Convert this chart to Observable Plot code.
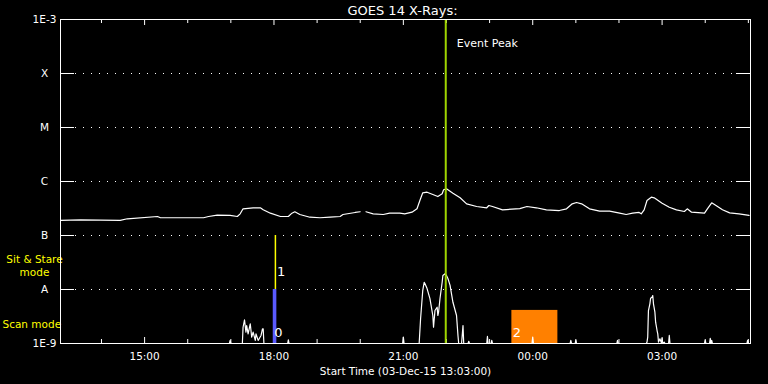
<!DOCTYPE html>
<html><head><meta charset="utf-8">
<script src="https://cdn.jsdelivr.net/npm/d3@7"></script>
<script src="https://cdn.jsdelivr.net/npm/@observablehq/plot@0.6"></script>
<style>html,body{margin:0;padding:0;background:#000;}#chart{width:768px;height:384px;}</style>
</head><body><div id="chart"></div>
<script>
// ---- data ----
const title = "GOES 14 X-Rays:";
const xLabel = "Start Time (03-Dec-15 13:03:00)";
const startTime = "13:03";
const endTime = "05:03";
const yTickValues = [1e-9, 1e-8, 1e-7, 1e-6, 1e-5, 1e-4, 1e-3];
const yTickLabels = ["1E-9", "A", "B", "C", "M", "X", "1E-3"];
const gridLevels = [1e-8, 1e-7, 1e-6, 1e-5, 1e-4];

// GOES long channel (1-8 A)
const hiTime = ["13:03","13:31","14:26","14:36","15:18","15:22","16:22","16:29","16:41","16:59","17:09","17:13","17:17","17:31","17:41","17:45","17:55","18:09","18:20","18:25","18:29","18:36","18:50","19:04","19:18","19:32","19:36","19:53","20:00","20:04","20:08","20:18","20:32","20:41","20:55","21:02","21:12","21:19","21:23","21:27","21:33","21:41","21:48","21:54","21:56","22:00","22:09","22:19","22:28","22:42","22:56","22:59","23:04","23:18","23:42","23:52","00:05","00:19","00:37","00:47","00:55","01:01","01:08","01:19","01:33","01:47","02:01","02:10","02:19","02:28","02:31","02:35","02:39","02:45","02:49","03:00","03:10","03:20","03:31","03:35","03:41","03:59","04:03","04:09","04:15","04:24","04:34","04:47","05:01"];
const hiFlux = [1.90e-7,1.95e-7,1.90e-7,2.04e-7,2.25e-7,2.13e-7,2.13e-7,2.25e-7,2.38e-7,2.35e-7,2.25e-7,2.52e-7,3.12e-7,3.26e-7,3.26e-7,3.0e-7,2.59e-7,2.25e-7,2.25e-7,2.59e-7,2.75e-7,2.45e-7,2.18e-7,2.13e-7,2.18e-7,2.25e-7,2.45e-7,2.67e-7,2.75e-7,null,2.75e-7,2.52e-7,2.45e-7,2.59e-7,2.59e-7,2.52e-7,2.70e-7,3.12e-7,4.45e-7,6.18e-7,6.34e-7,5.74e-7,5.27e-7,5.92e-7,7.02e-7,7.33e-7,6.07e-7,4.99e-7,3.86e-7,3.44e-7,3.26e-7,3.59e-7,3.44e-7,2.99e-7,3.15e-7,3.44e-7,3.26e-7,2.99e-7,2.90e-7,3.12e-7,3.86e-7,4.08e-7,3.86e-7,3.12e-7,2.82e-7,2.82e-7,2.59e-7,2.45e-7,2.59e-7,2.67e-7,2.52e-7,2.99e-7,4.45e-7,5.12e-7,4.99e-7,3.96e-7,3.34e-7,2.99e-7,2.78e-7,3.12e-7,2.70e-7,2.59e-7,3.12e-7,4.03e-7,3.59e-7,2.99e-7,2.63e-7,2.52e-7,2.35e-7];

// GOES short channel (0.5-4 A), 1E-9 = at or below the axis floor
const loTime = ["13:03","16:58","16:59","17:00","17:16","17:17","17:19","17:21","17:22","17:24","17:27","17:29","17:31","17:34","17:35","17:38","17:42","17:44","17:45","17:46","18:19","18:20","18:21","20:59","21:00","21:01","21:22","21:24","21:27","21:29","21:30","21:33","21:37","21:41","21:42","21:44","21:47","21:48","21:49","21:51","21:54","21:55","21:58","22:00","22:02","22:05","22:09","22:14","22:16","22:17","22:21","22:23","22:24","22:30","22:31","22:32","22:56","22:57","22:58","23:02","23:03","23:04","23:59","00:00","00:01","00:52","00:53","00:54","00:59","01:00","01:01","01:57","01:58","01:59","02:38","02:39","02:40","02:41","02:43","02:44","02:46","02:47","02:48","02:50","02:51","02:53","02:54","02:55","02:57","02:59","03:00","03:01","03:03","03:04","03:09","03:10","03:11","03:59","04:00","04:01","04:06","04:07","04:08","04:09","04:10","04:58","04:59","05:00","05:03"];
const loFlux = [1e-9,1e-9,1.14e-9,1e-9,1e-9,2.0e-9,2.75e-9,1.62e-9,2.15e-9,1.51e-9,2.32e-9,1.31e-9,1.62e-9,1.14e-9,1.51e-9,1.14e-9,1.41e-9,1.87e-9,1.87e-9,1e-9,1e-9,1.17e-9,1e-9,1e-9,1.31e-9,1e-9,1e-9,2.9e-9,9.6e-9,1.36e-8,1.29e-8,1.04e-8,6.8e-9,3.3e-9,2.0e-9,4.08e-9,4.7e-9,3.3e-9,3.8e-9,6.8e-9,1.36e-8,1.82e-8,1.95e-8,1.82e-8,1.6e-8,1.19e-8,5.8e-9,3.3e-9,1.41e-9,1e-9,1e-9,2.15e-9,1e-9,1e-9,1.1e-9,1e-9,1e-9,1.35e-9,1e-9,1e-9,1.14e-9,1e-9,1e-9,1.31e-9,1e-9,1e-9,1.14e-9,1e-9,1e-9,1.14e-9,1e-9,1e-9,1.14e-9,1e-9,1e-9,1.06e-9,1.31e-9,4.08e-9,5.43e-9,6.9e-9,7.2e-9,7.74e-9,5.43e-9,3.8e-9,2.48e-9,1.74e-9,1.51e-9,1.06e-9,1.22e-9,1.03e-9,1.25e-9,1e-9,1.06e-9,1e-9,1e-9,1.41e-9,1e-9,1e-9,1.14e-9,1e-9,1e-9,1.25e-9,1e-9,1.14e-9,1e-9,1e-9,1.14e-9,1e-9,1e-9];

const eventPeakTime = "21:59";
const eventLabel = "Event Peak";
const scanBarTime = ["17:59", "18:04"];     // blue bar, scan mode
const scanBarFlux = [1e-9, 1e-8];
const sitStareTime = "18:02";               // yellow line, sit & stare
const sitStareFlux = [1e-8, 1e-7];
const orangeTime = ["23:31", "00:35"];
const orangeFlux = [1e-9, 4.1e-9];
const modeLabels = ["0", "1", "2"];
const modeLabelTime = ["18:06", "18:10", "23:38"];
const modeLabelFlux = [1.6e-9, 2.1e-8, 1.55e-9];
const sitStareLabel = "Sit & Stare\nmode";
const sitStareLabelFlux = 2.78e-8;
const scanLabel = "Scan mode";
const scanLabelFlux = 2.25e-9;

// ---- build ----
const parseT = s => { const [h, m] = s.split(":").map(Number); return new Date(Date.UTC(2015, 11, h < 13 ? 4 : 3, h, m)); };
const hi = hiTime.map((s, i) => ({t: parseT(s), f: hiFlux[i]}));
const lo = loTime.map((s, i) => ({t: parseT(s), f: loFlux[i]}));
const t0 = parseT(startTime), t1 = parseT(endTime);
const hourTicks = d3.utcHour.range(d3.utcHour.ceil(t0), t1);
const major = hourTicks.filter(d => d.getUTCHours() % 3 === 0);
const minor = hourTicks.filter(d => d.getUTCHours() % 3 !== 0);
const eventT = parseT(eventPeakTime);

const W = 768, H = 384, mL = 60, mR = 18, mT = 19, mB = 41;
const fw = W - mL - mR, fh = H - mT - mB;
const white = "#fff", yellow = "#ffff00";

const chart = Plot.plot({
  width: W, height: H, marginLeft: mL, marginRight: mR, marginTop: mT, marginBottom: mB,
  style: {background: "#000", color: white, fontFamily: "DejaVu Sans, sans-serif", fontSize: "10.5px"},
  x: {type: "utc", domain: [t0, t1]},
  y: {type: "log", domain: [1e-9, 1e-3]},
  marks: [
    Plot.tickY(gridLevels, {y: d => d, stroke: white, strokeDasharray: "1,7", insetLeft: 15, insetRight: 15}),
    Plot.tickY(yTickValues, {y: d => d, stroke: white, insetRight: fw - 14}),
    Plot.tickY(yTickValues, {y: d => d, stroke: white, insetLeft: fw - 14}),
    Plot.tickX(minor, {x: d => d, stroke: white, insetTop: fh - 4}),
    Plot.tickX(major, {x: d => d, stroke: white, insetTop: fh - 6}),
    Plot.tickX(minor, {x: d => d, stroke: white, insetBottom: fh - 4}),
    Plot.tickX(major, {x: d => d, stroke: white, insetBottom: fh - 6}),
    Plot.rect([0], {x1: () => parseT(orangeTime[0]), x2: () => parseT(orangeTime[1]), y1: () => orangeFlux[0], y2: () => orangeFlux[1], fill: "#ff8000"}),
    Plot.line(lo, {x: "t", y: "f", stroke: white, strokeWidth: 1.2}),
    Plot.line(hi, {x: "t", y: "f", stroke: white, strokeWidth: 1.2}),
    Plot.rect([0], {x1: () => parseT(scanBarTime[0]), x2: () => parseT(scanBarTime[1]), y1: () => scanBarFlux[0], y2: () => scanBarFlux[1], fill: "#5a5aff"}),
    Plot.ruleX([parseT(sitStareTime)], {x: d => d, y1: sitStareFlux[0], y2: sitStareFlux[1], stroke: yellow, strokeWidth: 1.5}),
    Plot.ruleX([eventT], {x: d => d, stroke: "#9fd400", strokeWidth: 2}),
    Plot.text([eventLabel], {x: () => eventT, y: () => 3.67e-4, text: d => d, textAnchor: "start", dx: 11, fill: white, fontSize: 11}),
    Plot.text(modeLabels, {x: (d, i) => parseT(modeLabelTime[i]), y: (d, i) => modeLabelFlux[i], text: d => d, fill: white, fontSize: 13}),
    Plot.text([sitStareLabel], {x: () => t0, y: () => sitStareLabelFlux, text: d => d, fill: yellow, fontSize: 10.5, lineHeight: 1.2, textAnchor: "middle", dx: -26}),
    Plot.text([scanLabel], {x: () => t0, y: () => scanLabelFlux, text: d => d, fill: yellow, fontSize: 10.5, textAnchor: "start", dx: -58}),
    Plot.frame({stroke: white}),
    Plot.axisY({ticks: yTickValues, tickFormat: d => yTickLabels[yTickValues.indexOf(d)], tickSize: 0, tickPadding: 16, textAnchor: "middle", label: null, fill: white}),
    Plot.axisX({ticks: major, tickFormat: d3.utcFormat("%H:%M"), tickSize: 0, tickPadding: 9, label: null, fill: white}),
    Plot.text([title], {frameAnchor: "top", dy: -9, dx: -3, lineAnchor: "middle", text: d => d, fill: white, fontSize: 13}),
    Plot.text([xLabel], {frameAnchor: "bottom", dy: 28, lineAnchor: "middle", text: d => d, fill: white, fontSize: 10.5})
  ]
});
document.getElementById("chart").appendChild(chart);
</script>
</body></html>
